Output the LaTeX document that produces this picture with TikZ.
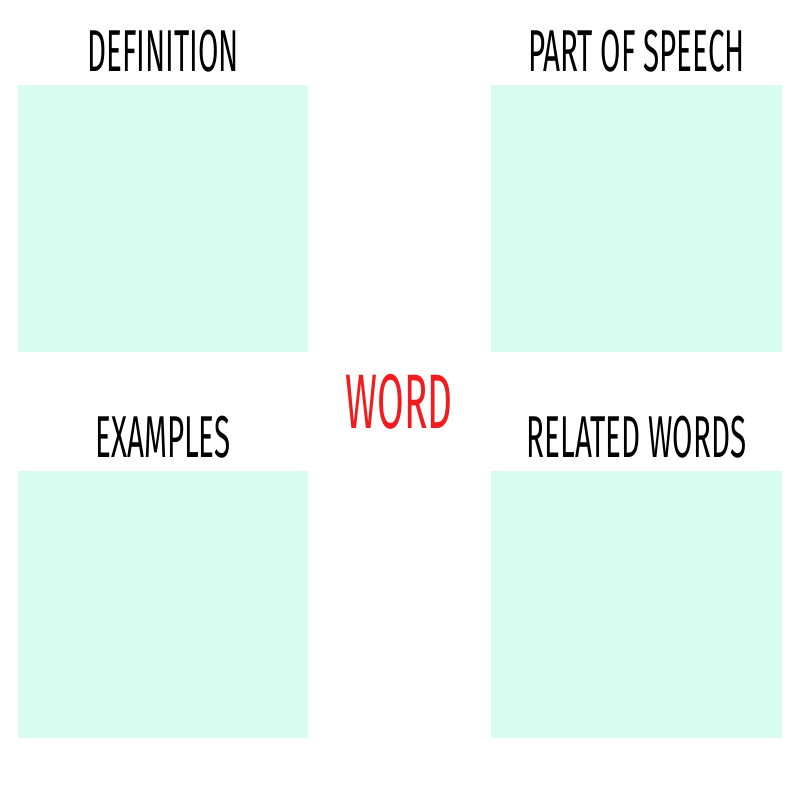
\documentclass[tikz,border=0pt]{standalone}
\usepackage{fontspec}
\usepackage{xcolor}
\usetikzlibrary{positioning}
\newfontfamily\handfont[FakeStretch=0.5]{Fira Sans}
\definecolor{custom-mint}{RGB}{216, 252, 240}
\definecolor{custom-red}{RGB}{240, 28, 30}

\begin{document}
\begin{tikzpicture}[x=0.025cm, y=-0.025cm]
\tikzset{card/.style={fill=custom-mint, draw=none, minimum width=7.25cm, minimum height=6.675cm, inner sep=0pt},
         heading/.style={font=\handfont\fontsize{42}{42}\selectfont, text=black, anchor=base, inner sep=0pt}}
\useasboundingbox (0,0) rectangle (800,800);

\node[card] (defbox) at (163,218.5) {};
\node[card] (posbox) at (636.5,218.5) {};
\node[card] (exbox) at (163,604.5) {};
\node[card] (relbox) at (636.5,604.5) {};

\node[heading] (deftitle) at ([yshift=0.325cm]defbox.north) {DEFINITION};
\node[heading] (postitle) at ([yshift=0.325cm]posbox.north) {PART OF SPEECH};
\node[heading] (extitle) at ([yshift=0.325cm]exbox.north) {EXAMPLES};
\node[heading] (reltitle) at ([yshift=0.325cm]relbox.north) {RELATED WORDS};

\node[heading, text=custom-red, font=\handfont\fontsize{55}{55}\selectfont] (word) at (399,428) {WORD};

\end{tikzpicture}
\end{document}
